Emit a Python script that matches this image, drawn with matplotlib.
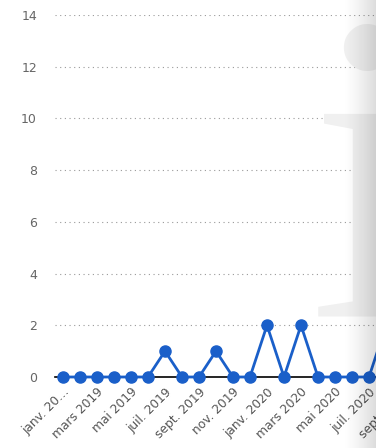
import numpy as np
import matplotlib
matplotlib.use("Agg")
import matplotlib.pyplot as plt

# monthly values, janv. 2019 -> août 2020 (last one is cut off at the right edge)
mois = ["janv. 2019", "févr. 2019", "mars 2019", "avr. 2019", "mai 2019", "juin 2019",
        "juil. 2019", "août 2019", "sept. 2019", "oct. 2019", "nov. 2019", "déc. 2019",
        "janv. 2020", "févr. 2020", "mars 2020", "avr. 2020", "mai 2020", "juin 2020",
        "juil. 2020", "août 2020"]
valeurs = [0, 0, 0, 0, 0, 0, 1, 0, 0, 1, 0, 0, 2, 0, 2, 0, 0, 0, 0, 2]

# every other month gets a label
etiquettes = ["janv. 20…", "mars 2019", "mai 2019", "juil. 2019", "sept. 2019",
              "nov. 2019", "janv. 2020", "mars 2020", "mai 2020", "juil. 2020", "sept. 2020"]
graduations_y = [0, 2, 4, 6, 8, 10, 12, 14]

W, H = 376, 448
fig = plt.figure(figsize=(W / 100, H / 100), dpi=100)

# watermark "i" behind everything
fig.text(309 / W, 1 - 317 / H, "i", fontsize=318, family="Liberation Serif",
         color="#f0f0f0", ha="left", va="baseline", zorder=0)

# axes run past the right edge of the picture, like the cropped original
esp = 17.0
gauche = -8.0 / esp
droite = 20.6
ax = fig.add_axes([55 / W, (H - 377) / H, (droite - gauche) * esp / W, 362 / H])
ax.patch.set_alpha(0)

x = np.arange(len(valeurs))
ax.plot(x, valeurs, color="#1a5fc9", lw=2.0, marker="o", ms=8,
        clip_on=False, zorder=4)

ax.set_xlim(gauche, droite)
ax.set_ylim(0, 14)
ax.set_yticks(graduations_y)
ax.set_xticks(np.arange(0, 2 * len(etiquettes), 2))
ax.set_xticklabels(etiquettes, rotation=45, ha="right", va="top",
                   rotation_mode="anchor", fontsize=8.8, color="#555555")
ax.tick_params(axis="y", length=0, pad=13, labelsize=9, labelcolor="#666666")
ax.tick_params(axis="x", length=0, pad=6)

for y in graduations_y[1:]:
    ax.axhline(y, color="#999999", lw=0.8, ls=(0, (1, 3.2)), zorder=1)

for s in ["left", "right", "top"]:
    ax.spines[s].set_visible(False)
ax.spines["bottom"].set_color("black")
ax.spines["bottom"].set_linewidth(1.2)
ax.spines["bottom"].set_zorder(3)

# grey fade on the right edge
fondu = fig.add_axes([342 / W, 0, 34 / W, 1], zorder=10)
grad = np.zeros((2, 64, 4))
grad[..., 3] = np.linspace(0, 1, 64) ** 1.4 * 0.14
fondu.imshow(grad, aspect="auto", extent=[0, 1, 0, 1])
fondu.axis("off")

fig.savefig("out.png", dpi=100)
